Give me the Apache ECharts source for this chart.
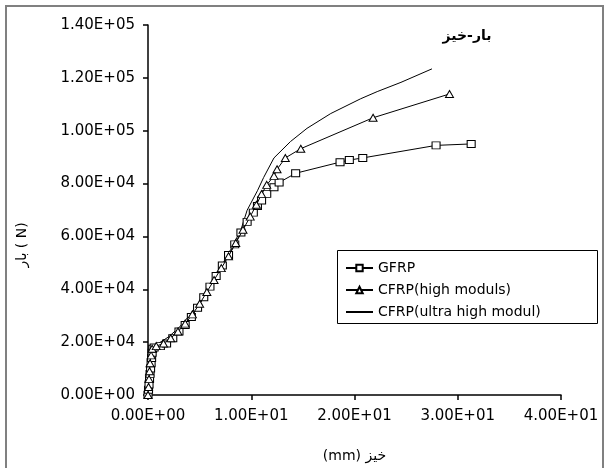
<!DOCTYPE html>
<html>
<head>
<meta charset="utf-8">
<script src="https://cdn.jsdelivr.net/npm/echarts@6/dist/echarts.min.js"></script>
<style>html,body{margin:0;padding:0;background:#fff;}#c{width:606px;height:468px;}</style>
</head>
<body>
<div id="c"></div>
<script>
// ---- data ----
const seriesNames = ['GFRP', 'CFRP(high moduls)', 'CFRP(ultra high modul)'];
const gfrpX = [0,0.05,0.1,0.15,0.2,0.25,0.3,0.35,0.4,0.45,0.6,1.2,1.8,2.4,3.0,3.6,4.2,4.8,5.4,6.0,6.6,7.2,7.8,8.4,9.0,9.6,10.2,10.6,11.0,11.5,12.2,12.7,14.3,18.6,19.5,20.8,27.9,31.3];
const gfrpY = [0,2000,4000,6000,8000,10000,12000,14000,16000,17500,18000,18500,19500,21500,24000,26500,29500,33000,37000,41000,45000,49000,53000,57000,61500,65500,69000,71500,73600,76100,78600,80400,83900,88100,88900,89700,94450,95000];
const cfrpHX = [0,0.05,0.1,0.15,0.2,0.3,0.4,0.8,1.5,2.2,2.9,3.6,4.3,5.0,5.7,6.4,7.1,7.8,8.5,9.2,9.9,10.5,11.0,11.5,12.2,12.5,13.3,14.8,21.8,29.2];
const cfrpHY = [0,3000,6000,9000,12000,15000,17500,18500,19500,21500,24000,27000,30500,34500,39000,43500,48000,52500,57500,62500,67500,72000,76000,79500,82900,85400,89700,93200,104900,113900];
const cfrpUX = [0,0.1,0.2,0.4,1.0,2.0,3.0,4.0,5.0,6.0,7.0,8.0,9.0,9.6,10.6,11.2,12.2,13.8,15.4,17.7,20.6,22.2,24.5,27.5];
const cfrpUY = [0,8000,16000,18500,19500,22000,25500,30000,35500,41500,48000,55000,62500,69900,77300,82300,89700,95900,100900,106500,112100,114800,118300,123400];
const xTicks = [0,10,20,30,40];
const yTicks = [0,20000,40000,60000,80000,100000,120000,140000];
const titleText = 'بار-خیز';
const xName = '(mm) خیز';
const yName = 'بار ( N)';

function pairs(xs, ys){ return xs.map((x,i)=>[x, ys[i]]); }
function sci(v){
  if (v === 0) return '0.00E+00';
  const e = Math.floor(Math.log10(Math.abs(v)) + 1e-9);
  const m = v / Math.pow(10, e);
  return m.toFixed(2) + 'E' + (e < 0 ? '-' : '+') + String(Math.abs(e)).padStart(2, '0');
}

const FONT = 'DejaVu Sans';
const chart = echarts.init(document.getElementById('c'), null, {renderer:'canvas'});
const lineStyle = {color:'#000', width:1};
const itemStyle = {color:'#fff', borderColor:'#000', borderWidth:1};
const hidden = 'rgba(0,0,0,0)';

chart.setOption({
  animation:false,
  backgroundColor:'#fff',
  grid:{left:148, right:45, top:25, bottom:67, containLabel:false},
  xAxis:{
    type:'value', min:xTicks[0], max:xTicks[xTicks.length-1], interval:xTicks[1]-xTicks[0],
    splitLine:{show:false},
    axisLine:{onZero:false, lineStyle:{color:'#000', width:1.5}},
    axisTick:{show:true, inside:false, length:5, lineStyle:{color:'#000', width:1.5}},
    axisLabel:{formatter:sci, fontFamily:FONT, fontSize:15, color:'#000', margin:14},
    name:xName, nameLocation:'middle', nameGap:54,
    nameTextStyle:{fontFamily:FONT, fontSize:14, color:'#000'}
  },
  yAxis:{
    type:'value', min:yTicks[0], max:yTicks[yTicks.length-1], interval:yTicks[1]-yTicks[0],
    splitLine:{show:false},
    axisLine:{show:true, onZero:false, lineStyle:{color:'#000', width:1.5}},
    axisTick:{show:true, inside:false, length:5, lineStyle:{color:'#000', width:1.5}},
    axisLabel:{formatter:sci, fontFamily:FONT, fontSize:15, color:'#000', margin:13}
  },
  legend:{
    orient:'vertical', left:340, top:256, itemWidth:27, itemHeight:8, itemGap:8,
    textStyle:{fontFamily:FONT, fontSize:14, color:'#000'},
    data:[
      {name:seriesNames[0]},
      {name:seriesNames[1]},
      {name:seriesNames[2], itemStyle:{color:hidden, borderColor:hidden, borderWidth:0}}
    ]
  },
  graphic:[
    {type:'rect', shape:{x:6, y:6, width:597, height:470}, style:{fill:'none', stroke:'#808080', lineWidth:2}, silent:true},
    {type:'rect', shape:{x:337.5, y:250.5, width:260, height:73}, style:{fill:'none', stroke:'#000', lineWidth:1}, silent:true, z:10},
    {type:'text', x:467, y:36, style:{text:titleText, font:'bold 14px "DejaVu Sans"', fill:'#000', align:'center', verticalAlign:'middle'}},
    {type:'text', x:22, y:245, rotation:Math.PI/2, style:{text:yName, font:'14px "DejaVu Sans"', fill:'#000', align:'center', verticalAlign:'middle'}}
  ],
  series:[
    {name:seriesNames[0], type:'line', data:pairs(gfrpX,gfrpY), symbol:'rect', symbolSize:[8,7], showAllSymbol:true,
     lineStyle:lineStyle, itemStyle:itemStyle, z:3},
    {name:seriesNames[1], type:'line', data:pairs(cfrpHX,cfrpHY), symbol:'triangle', symbolSize:[8,7], showAllSymbol:true,
     lineStyle:lineStyle, itemStyle:itemStyle, z:4},
    {name:seriesNames[2], type:'line', data:pairs(cfrpUX,cfrpUY), symbol:'none', showSymbol:false,
     lineStyle:lineStyle, itemStyle:{color:'#000'}, z:2}
  ]
});
</script>
</body>
</html>
